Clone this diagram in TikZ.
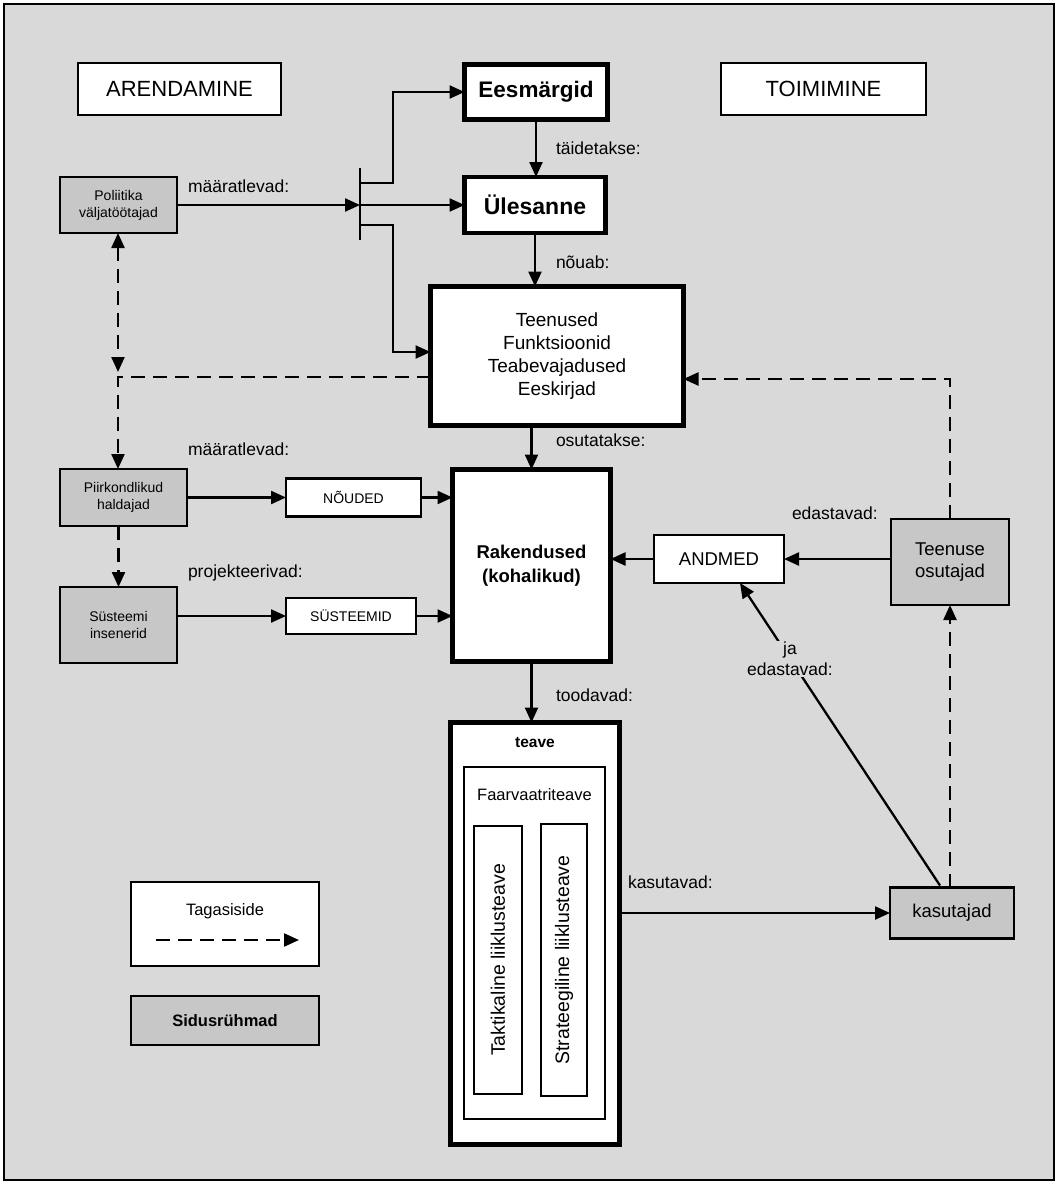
\documentclass[tikz,border=0pt]{standalone}
\usepackage{fontspec}
\setmainfont{Liberation Sans}
\usetikzlibrary{arrows.meta, positioning, calc}
\definecolor{taust}{RGB}{217,217,217}
\definecolor{ryhm}{RGB}{199,199,199}

\begin{document}
\begin{tikzpicture}[x=1pt, y=-1pt,
        every node/.style={inner sep=0pt, outer sep=0pt},
        kast/.style={rectangle, draw, line width=2.3pt, fill=white, align=center},
        paks/.style={rectangle, draw, line width=4.5pt, fill=white, align=center},
        ryhmkast/.style={rectangle, draw, line width=2.3pt, fill=ryhm, align=center},
        nool/.style={-{Triangle[length=15pt, width=13pt]}, line width=2.3pt},
        tagasi/.style={nool, dash pattern=on 14pt off 8pt},
        silt/.style={anchor=west, font=\fontsize{17.5}{20}\selectfont}]
        \useasboundingbox (0,0) rectangle (1058,1184);
        \draw[line width=2pt, fill=taust] (4,4) rectangle (1054,1180);

        \node[kast, minimum width=203pt, minimum height=52pt, font=\fontsize{22}{26}\selectfont] (arend) at (179.5,89) {ARENDAMINE};
        \node[kast, minimum width=205pt, minimum height=52pt, font=\fontsize{22}{26}\selectfont] (toim) at (823.5,89) {TOIMIMINE};

        \node[paks, minimum width=143pt, minimum height=55pt, font=\bfseries\fontsize{22.5}{26}\selectfont] (eesm) at (536,92) {Eesmärgid};
        \node[paks, minimum width=141pt, minimum height=56pt, font=\bfseries\fontsize{23}{26}\selectfont] (yles) at (535,205) {Ülesanne};
        \node[paks, minimum width=253pt, minimum height=139pt, font=\fontsize{19}{23}\selectfont] (teen) at (557,356) {Teenused\\Funktsioonid\\Teabevajadused\\Eeskirjad};
        \node[paks, minimum width=158pt, minimum height=192pt, font=\bfseries\fontsize{18.5}{24}\selectfont] (rak) at (531.5,565.5) {Rakendused\\(kohalikud)};
        \node[paks, minimum width=169pt, minimum height=422pt] (teave) at (535,933.5) {};
        \node[font=\bfseries\fontsize{15.5}{18}\selectfont, below=15pt of teave.north] (teavet) {teave};
        \node[kast, minimum width=141pt, minimum height=352pt] (faar) at (534.5,943) {};
        \node[font=\fontsize{16.5}{19}\selectfont, below=22pt of faar.north] (faart) {Faarvaatriteave};
        \node[kast, minimum width=48pt, minimum height=268pt] (takt) at (498,960) {};
        \node[rotate=90, font=\fontsize{19.5}{22}\selectfont] at (takt) {Taktikaline liiklusteave};
        \node[kast, minimum width=46pt, minimum height=272pt] (strat) at (564,960) {};
        \node[rotate=90, font=\fontsize{19.5}{22}\selectfont] at (strat) {Strateegiline liiklusteave};

        \node[ryhmkast, minimum width=117pt, minimum height=56pt, font=\fontsize{14}{17}\selectfont] (pol) at (118.5,205) {Poliitika\\väljatöötajad};
        \node[ryhmkast, minimum width=127pt, minimum height=57pt, font=\fontsize{14}{17}\selectfont] (piirk) at (123.5,497.5) {Piirkondlikud\\haldajad};
        \node[ryhmkast, minimum width=117pt, minimum height=76pt, font=\fontsize{14}{17}\selectfont] (syst) at (118.5,625) {Süsteemi\\insenerid};
        \node[kast, minimum width=135pt, minimum height=38pt, font=\fontsize{14}{17}\selectfont] (noud) at (353.5,497.5) {NÕUDED};
        \node[kast, minimum width=130pt, minimum height=36pt, font=\fontsize{14}{17}\selectfont] (systid) at (351,616) {SÜSTEEMID};
        \node[kast, minimum width=130pt, minimum height=48pt, font=\fontsize{18.5}{21}\selectfont] (andmed) at (719,559) {ANDMED};
        \node[ryhmkast, minimum width=118pt, minimum height=86pt, font=\fontsize{18.5}{22}\selectfont] (tosut) at (950,562) {Teenuse\\osutajad};
        \node[ryhmkast, minimum width=124pt, minimum height=51pt, font=\fontsize{18.5}{21}\selectfont] (kasut) at (952,913) {kasutajad};

        \node[kast, minimum width=188pt, minimum height=84pt] (leg1) at (225,924) {};
        \node[font=\fontsize{16.5}{19}\selectfont, below=22pt of leg1.north] (leg1t) {Tagasiside};
        \node[ryhmkast, minimum width=188pt, minimum height=49pt, font=\bfseries\fontsize{16.5}{19}\selectfont] (leg2) at (225,1020.5) {Sidusrühmad};

        \node[silt] at (188,186) {määratlevad:};
        \node[silt] at (556,148) {täidetakse:};
        \node[silt] at (556,262) {nõuab:};
        \node[silt] at (556,440) {osutatakse:};
        \node[silt] at (188,449) {määratlevad:};
        \node[silt] at (188,573) {projekteerivad:};
        \node[silt] at (792,513) {edastavad:};
        \node[silt] at (556,695) {toodavad:};
        \node[silt] at (628,882) {kasutavad:};

        \coordinate (jyl) at (360,168);
        \coordinate (jal) at (360,240);
        \coordinate (jk) at (360,205);
        \draw[line width=2.3pt] (jyl) -- (jal);
        \draw[nool] (pol.east) -- (jk);
        \draw[nool] (360,183) -- (393,183) |- (eesm.west);
        \draw[nool] (jk) -- (yles.west);
        \draw[nool] (360,225) -- (393,225) |- ($(teen.west)+(0,-4)$);

        \draw[nool] (eesm.south) -- (eesm.south |- yles.north);
        \draw[nool] (yles.south) -- (yles.south |- teen.north);
        \draw[nool] (teen.south -| rak.north) -- (rak.north);
        \draw[nool] (rak.south) -- (rak.south |- teave.north);

        \draw[nool] (piirk.east) -- (noud.west);
        \draw[nool] (noud.east) -- (noud.east -| rak.west);
        \draw[nool] (syst.east |- systid.west) -- (systid.west);
        \draw[nool] (systid.east) -- (systid.east -| rak.west);
        \draw[nool] (tosut.west |- andmed.east) -- (andmed.east);
        \draw[nool] (andmed.west) -- (andmed.west -| rak.east);
        \draw[nool] (teave.east |- kasut.west) -- (kasut.west);
        \draw[nool] ($(kasut.north)+(-12,-2)$) -- node[pos=0.75, fill=taust, inner sep=1pt, align=center, font=\fontsize{17.5}{21}\selectfont] (ja) {ja\\edastavad:} ($(andmed.south)+(21,0)$);

        \coordinate (tvas) at (118,377);
        \coordinate (tparem) at (950,379);
        \draw[tagasi, {Triangle[length=15pt, width=13pt]}-{Triangle[length=15pt, width=13pt]}] (pol.south -| tvas) -- ($(tvas)+(0,-5)$);
        \draw[tagasi] (teen.west |- tvas) -- (tvas) -- (tvas |- piirk.north);
        \draw[tagasi] (piirk.south -| syst.north) -- (syst.north);
        \draw[tagasi] (tosut.north -| tparem) -- (tparem) -- (tparem -| teen.east);
        \draw[tagasi] (tosut.south |- kasut.north) -- (tosut.south);
        \draw[tagasi] ($(leg1.south west)+(25,-26)$) -- ($(leg1.south east)+(-20,-26)$);
    \end{tikzpicture}
\end{document}
